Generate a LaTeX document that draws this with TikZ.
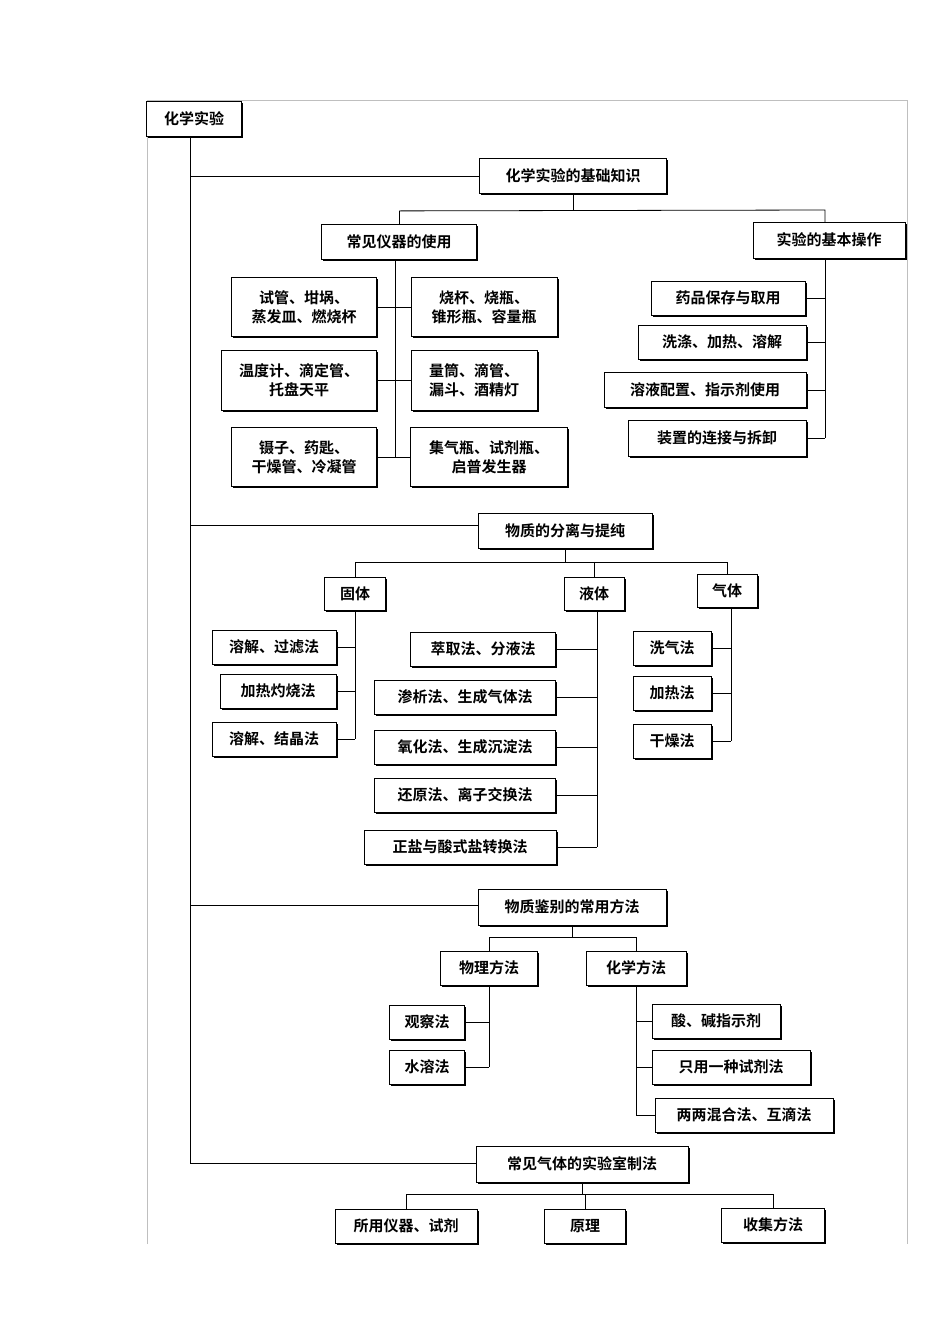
\documentclass[tikz,border=0pt]{standalone}
\usepackage{fontspec}
\setmainfont{Noto Sans CJK SC}[BoldFont={* Bold}]
\usetikzlibrary{shadows}
\tikzset{bx/.style={draw,line width=0.8pt,fill=white,inner sep=2pt,align=center,font=\fontsize{15}{19}\selectfont\bfseries,
 drop shadow={shadow xshift=1.6pt,shadow yshift=-1.6pt,fill=black,opacity=1}},
 ln/.style={line width=0.8pt}}
\newcommand\bx[6]{\node[bx,minimum width=#4pt,minimum height=#5pt] (#1) at (#2pt,-#3pt) {#6};}
\begin{document}
\begin{tikzpicture}[x=1pt,y=1pt]
\useasboundingbox (0,0) rectangle (950,-1344);
\draw[gray!50,line width=0.6pt] (147,-1244) -- (147,-100) -- (907,-100) -- (907,-1244);
\bx{root}{194}{119}{95}{35}{化学实验}
\bx{a}{573}{176}{187}{35}{化学实验的基础知识}
\bx{a1}{399}{242}{155}{35}{常见仪器的使用}
\bx{a2}{829}{240}{152}{36}{实验的基本操作}
\bx{b1}{304}{307}{145}{59}{试管、坩埚、\\蒸发皿、燃烧杯}
\bx{b2}{299}{380}{155}{60}{温度计、滴定管、\\托盘天平}
\bx{b3}{304}{457}{145}{59}{镊子、药匙、\\干燥管、冷凝管}
\bx{c1}{484}{307}{146}{59}{烧杯、烧瓶、\\锥形瓶、容量瓶}
\bx{c2}{474}{380}{126}{60}{量筒、滴管、\\漏斗、酒精灯}
\bx{c3}{489}{457}{157}{59}{集气瓶、试剂瓶、\\启普发生器}
\bx{d1}{728}{298}{154}{34}{药品保存与取用}
\bx{d2}{722}{342}{168}{34}{洗涤、加热、溶解}
\bx{d3}{705}{390}{202}{35}{溶液配置、指示剂使用}
\bx{d4}{717}{438}{178}{36}{装置的连接与拆卸}
\bx{e}{565}{531}{174}{35}{物质的分离与提纯}
\bx{e1}{355}{594}{61}{33}{固体}
\bx{e2}{594}{594}{60}{33}{液体}
\bx{e3}{727}{591}{60}{33}{气体}
\bx{f1}{274}{647}{124}{34}{溶解、过滤法}
\bx{f2}{278}{691}{116}{34}{加热灼烧法}
\bx{f3}{274}{739}{124}{34}{溶解、结晶法}
\bx{g1}{483}{649}{145}{34}{萃取法、分液法}
\bx{g2}{465}{697}{181}{34}{渗析法、生成气体法}
\bx{g3}{465}{747}{181}{34}{氧化法、生成沉淀法}
\bx{g4}{465}{795}{181}{34}{还原法、离子交换法}
\bx{g5}{460}{847}{192}{34}{正盐与酸式盐转换法}
\bx{h1}{672}{648}{78}{34}{洗气法}
\bx{h2}{672}{693}{78}{34}{加热法}
\bx{h3}{672}{741}{78}{34}{干燥法}
\bx{k}{572}{907}{188}{36}{物质鉴别的常用方法}
\bx{k1}{489}{968}{97}{34}{物理方法}
\bx{k2}{636}{968}{100}{34}{化学方法}
\bx{m1}{427}{1022}{75}{34}{观察法}
\bx{m2}{427}{1067}{75}{34}{水溶法}
\bx{n1}{716}{1021}{128}{34}{酸、碱指示剂}
\bx{n2}{731}{1067}{158}{34}{只用一种试剂法}
\bx{n3}{744}{1115}{178}{34}{两两混合法、互滴法}
\bx{p}{582}{1164}{212}{36}{常见气体的实验室制法}
\bx{p1}{406}{1226}{142}{34}{所用仪器、试剂}
\bx{p2}{585}{1226}{81}{34}{原理}
\bx{p3}{773}{1225}{103}{34}{收集方法}
\begin{scope}[ln]
\coordinate (t) at (190,-137);
\draw (t) -- (190,-1163);
\draw (190,-176) -- (a.west);
\draw (190,-525) -- (e.west|-0,-525);
\draw (190,-905) -- (k.west|-0,-905);
\draw (190,-1163) -- (p.west|-0,-1163);
% a
\draw (a.south) -- ++(0,-17) coordinate (ay);
\draw (a1.north|-ay) -- (a1.north);
\draw (a1.north|-ay) -- (825,-210) -- (825,-222);
\coordinate (v1) at (395,-260);
\draw (v1) -- (395,-457);
\foreach \n in {b1,b2,b3} \draw (\n.east) -- (\n.east-|v1);
\foreach \n in {c1,c2,c3} \draw (\n.west) -- (\n.west-|v1);
\coordinate (v2) at (825,-258);
\draw (v2) -- (825,-438);
\foreach \n in {d1,d2,d3,d4} \draw (\n.east) -- (\n.east-|v2);
% e
\draw (e.south) -- ++(0,-13) coordinate (ey);
\draw (e1.north|-ey) -- (e1.north);
\draw (e1.north|-ey) -- (e3.north|-ey) -- (e3.north);
\draw (e2.north|-ey) -- (e2.north);
\draw (e1.south) -- (355,-739);
\foreach \n in {f1,f2,f3} \draw (\n.east) -- (\n.east-|e1.south);
\draw (597,-611) -- (597,-847);
\foreach \n in {g1,g2,g3,g4,g5} \draw (\n.east) -- (597,0|-\n.east);
\draw (731,-608) -- (731,-741);
\foreach \n in {h1,h2,h3} \draw (\n.east) -- (731,0|-\n.east);
% k
\draw (k.south) -- ++(0,-12) coordinate (ky);
\draw (k1.north|-ky) -- (k1.north);
\draw (k1.north|-ky) -- (k2.north|-ky) -- (k2.north);
\draw (k1.south) -- (489,-1067);
\foreach \n in {m1,m2} \draw (\n.east) -- (489,0|-\n.east);
\draw (k2.south) -- (636,-1115);
\foreach \n in {n1,n2,n3} \draw (\n.west) -- (636,0|-\n.west);
% p
\draw (p.south) -- ++(0,-12) coordinate (py);
\draw (p1.north|-py) -- (p1.north);
\draw (p1.north|-py) -- (p3.north|-py) -- (p3.north);
\draw (p2.north|-py) -- (p2.north);
\end{scope}
\end{tikzpicture}
\end{document}
